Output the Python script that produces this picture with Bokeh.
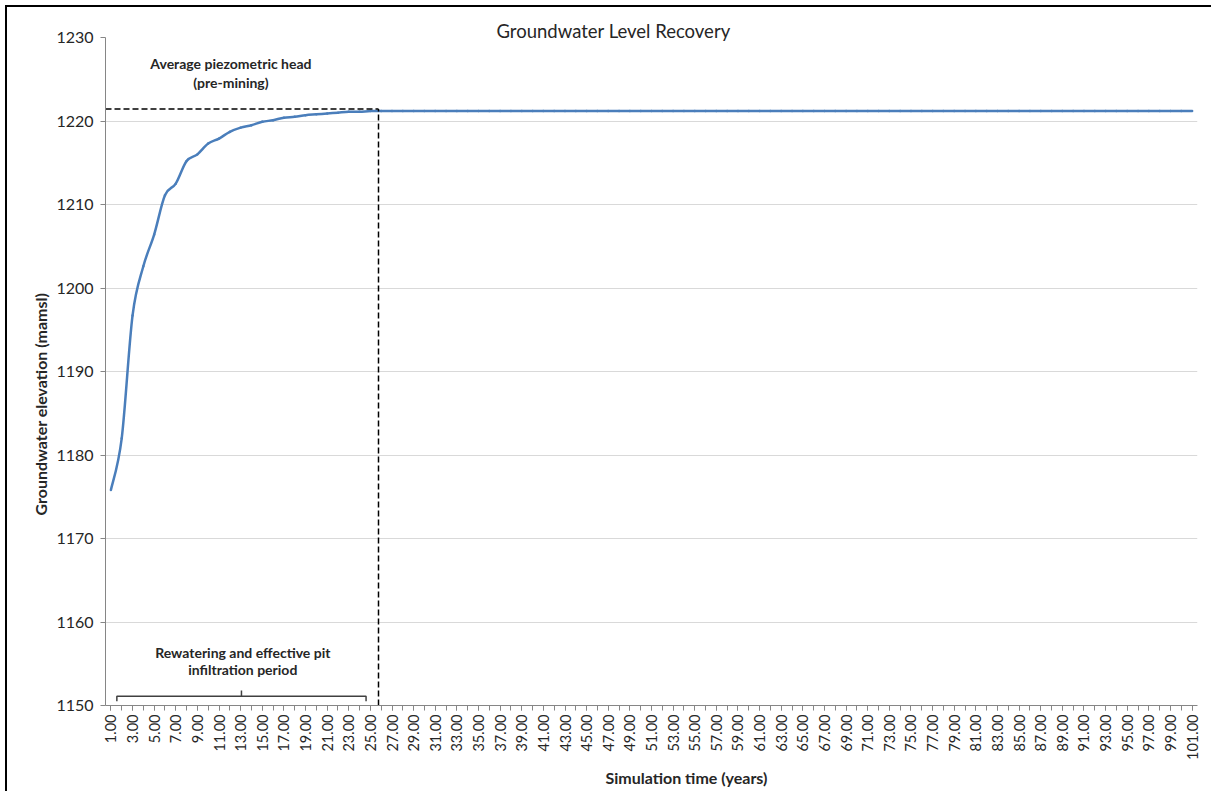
import math

from bokeh.embed import file_html
from bokeh.models import (ColumnDataSource, FixedTicker, Label,
                          NumeralTickFormatter, Range1d, Title)
from bokeh.plotting import figure
from bokeh.resources import INLINE

# Simulation time (years) and modelled groundwater elevation (mamsl)
years = list(range(1, 102))
elevation = [
    1175.8, 1182.0, 1196.7, 1202.6, 1206.4, 1211.1, 1212.5, 1215.2, 1216.0, 1217.3,
    1217.9, 1218.7, 1219.2, 1219.5, 1219.9, 1220.1, 1220.4, 1220.5, 1220.7, 1220.8,
    1220.9, 1221.0, 1221.1, 1221.1, 1221.2, 1221.2, 1221.2, 1221.2, 1221.2, 1221.2,
    1221.2, 1221.2, 1221.2, 1221.2, 1221.2, 1221.2, 1221.2, 1221.2, 1221.2, 1221.2,
    1221.2, 1221.2, 1221.2, 1221.2, 1221.2, 1221.2, 1221.2, 1221.2, 1221.2, 1221.2,
    1221.2, 1221.2, 1221.2, 1221.2, 1221.2, 1221.2, 1221.2, 1221.2, 1221.2, 1221.2,
    1221.2, 1221.2, 1221.2, 1221.2, 1221.2, 1221.2, 1221.2, 1221.2, 1221.2, 1221.2,
    1221.2, 1221.2, 1221.2, 1221.2, 1221.2, 1221.2, 1221.2, 1221.2, 1221.2, 1221.2,
    1221.2, 1221.2, 1221.2, 1221.2, 1221.2, 1221.2, 1221.2, 1221.2, 1221.2, 1221.2,
    1221.2, 1221.2, 1221.2, 1221.2, 1221.2, 1221.2, 1221.2, 1221.2, 1221.2, 1221.2,
    1221.2,
]

# Reference levels
pre_mining_head = 1221.45
rewatering_end = 25.75
bracket_start, bracket_end = 1.55, 24.6

y_ticks = [1150, 1160, 1170, 1180, 1190, 1200, 1210, 1220, 1230]
x_label_ticks = list(range(1, 102, 2))
x_minor_ticks = list(range(1, 102))

FONT = "Lato"
TEXT = "#262626"
AXIS = "#868686"
GRID = "#d9d9d9"
BLUE = "#4a7ebb"

p = figure(
    width=1206, height=786,
    x_range=Range1d(0.5, 101.5), y_range=Range1d(1150, 1230),
    output_backend="svg", toolbar_location=None,
    min_border_left=98, min_border_right=16,
    min_border_top=30, min_border_bottom=88,
)
p.margin = (5, 0, 0, 5)
p.styles = {"border-left": "2px solid black", "border-top": "2px solid black"}
p.outline_line_color = None
p.background_fill_color = "white"
p.border_fill_color = "white"

# Chart title
p.title.text = "Groundwater Level Recovery"
p.title.align = "left"
p.title.offset = 391
p.title.standoff = -8
p.title.text_font = FONT
p.title.text_font_size = "18.5px"
p.title.text_font_style = "normal"
p.title.text_color = TEXT

# Axis titles
p.add_layout(Title(text="Groundwater elevation (mamsl)", align="left",
                   offset=190, standoff=7, text_font=FONT,
                   text_font_size="16px", text_font_style="bold",
                   text_color=TEXT), "left")
p.add_layout(Title(text="Simulation time (years)", align="left",
                   offset=500, standoff=7, text_font=FONT,
                   text_font_size="16px", text_font_style="bold",
                   text_color=TEXT), "below")

# Y axis
p.yaxis.ticker = FixedTicker(ticks=y_ticks)
p.yaxis.axis_line_color = AXIS
p.yaxis.major_tick_line_color = AXIS
p.yaxis.major_tick_out = 5
p.yaxis.major_tick_in = 0
p.yaxis.minor_tick_line_color = None
p.yaxis.major_label_text_font = FONT
p.yaxis.major_label_text_font_size = "16px"
p.yaxis.major_label_text_color = TEXT
p.yaxis.major_label_standoff = 7
p.ygrid.ticker = FixedTicker(ticks=y_ticks)
p.ygrid.grid_line_color = GRID
p.ygrid.grid_line_width = 1

# X axis (category-style: a tick every year, a label every second year)
p.xaxis.ticker = FixedTicker(ticks=x_label_ticks, minor_ticks=x_minor_ticks)
p.xaxis.formatter = NumeralTickFormatter(format="0.00")
p.xaxis.major_label_orientation = math.pi / 2
p.xaxis.axis_line_color = AXIS
p.xaxis.major_tick_line_color = AXIS
p.xaxis.minor_tick_line_color = AXIS
p.xaxis.major_tick_out = 5
p.xaxis.major_tick_in = 0
p.xaxis.minor_tick_out = 5
p.xaxis.minor_tick_in = 0
p.xaxis.major_label_text_font = FONT
p.xaxis.major_label_text_font_size = "14.5px"
p.xaxis.major_label_text_color = TEXT
p.xaxis.major_label_standoff = 4
p.xgrid.grid_line_color = None

# Smoothed recovery curve: cubic Bezier segments through the annual values
n = len(years)
x0, y0, x1, y1, cx0, cy0, cx1, cy1 = [], [], [], [], [], [], [], []
for i in range(n - 1):
    ip = max(i - 1, 0)
    inx = min(i + 2, n - 1)
    x0.append(years[i]); y0.append(elevation[i])
    x1.append(years[i + 1]); y1.append(elevation[i + 1])
    cx0.append(years[i] + (years[i + 1] - years[ip]) / 6)
    cy0.append(elevation[i] + (elevation[i + 1] - elevation[ip]) / 6)
    cx1.append(years[i + 1] - (years[inx] - years[i]) / 6)
    cy1.append(elevation[i + 1] - (elevation[inx] - elevation[i]) / 6)
curve = ColumnDataSource(dict(x0=x0, y0=y0, x1=x1, y1=y1,
                              cx0=cx0, cy0=cy0, cx1=cx1, cy1=cy1))
p.bezier(x0="x0", y0="y0", x1="x1", y1="y1", cx0="cx0", cy0="cy0",
         cx1="cx1", cy1="cy1", source=curve,
         line_color=BLUE, line_width=2.5, line_cap="round")

# Pre-mining head and end of the rewatering period
p.line([0.5, rewatering_end], [pre_mining_head, pre_mining_head],
       line_color="black", line_width=1.5, line_dash="6 3")
p.line([rewatering_end, rewatering_end], [1150, pre_mining_head],
       line_color="black", line_width=1.5, line_dash="6 3")

# Bracket spanning the rewatering period
p.multi_line(
    xs=[[bracket_start, bracket_start, bracket_end, bracket_end],
        [(bracket_start + bracket_end) / 2, (bracket_start + bracket_end) / 2]],
    ys=[[1150.5, 1151.1, 1151.1, 1150.5], [1151.1, 1151.8]],
    line_color="#404040", line_width=1.5,
)

def note(text, x, y):
    p.add_layout(Label(x=x, y=y, text=text, text_font=FONT,
                       text_font_size="14px", text_font_style="bold",
                       text_color=TEXT, text_align="center",
                       text_baseline="middle"))

note("Average piezometric head", 12.1, 1226.9)
note("(pre-mining)", 12.1, 1224.6)
note("Rewatering and effective pit", 13.2, 1156.4)
note("infiltration period", 13.2, 1154.3)

open("out.html", "w").write(file_html(p, INLINE))
